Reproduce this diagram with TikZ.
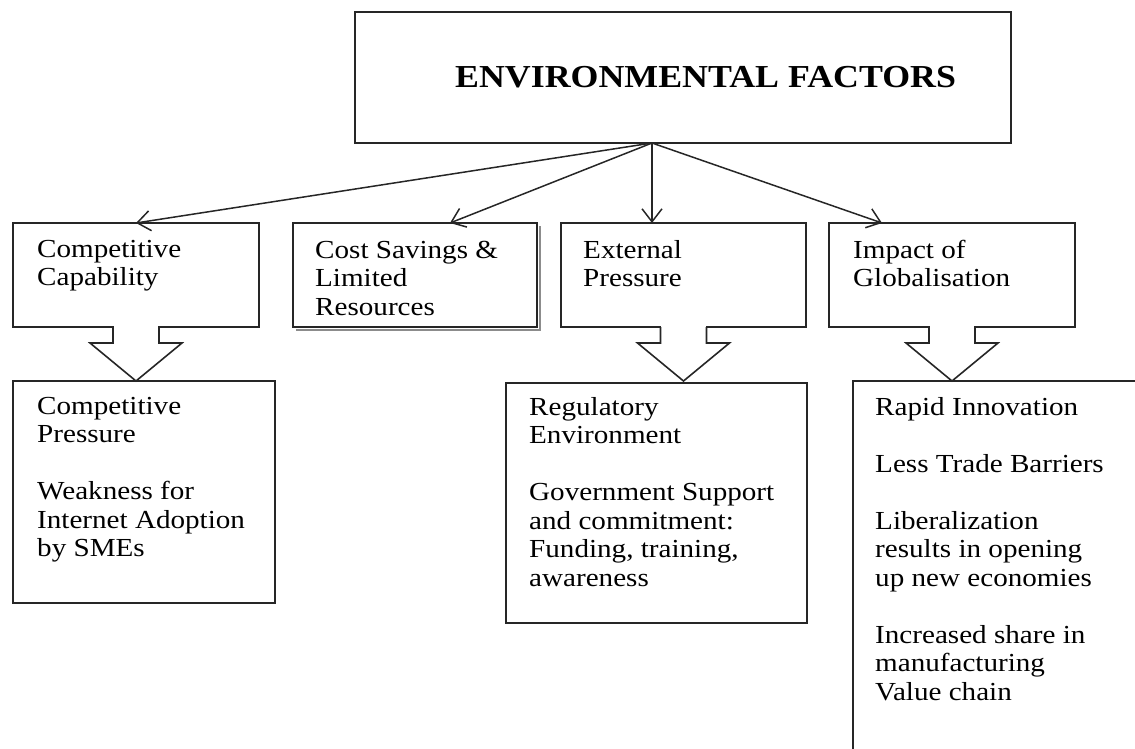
\documentclass[tikz,border=0pt]{standalone}
\usepackage{fontspec}
\setmainfont{Liberation Serif}[FakeStretch=1.12]
\newfontfamily\titlefont{Liberation Serif}[FakeStretch=1.12]
\usetikzlibrary{arrows.meta,calc}
\newcommand\firstrow{\rule{0pt}{20pt}}
% hollow block arrow hanging below a box
\newcommand\downblock[1]{%
  \fill[white] ($(#1.south)+(-22.2,-1.5)$) rectangle ($(#1.south)+(22.2,1.5)$);
  \draw[fat] ($(#1.south)+(-23,0)$) -- ++(0,16) -- ++(-23,0)
    -- ($(#1.south)+(0,54)$) -- ($(#1.south)+(46,16)$) -- ++(-23,0) -- ++(0,-16);
}
\begin{document}
\begin{tikzpicture}[x=1pt,y=-1pt,
  frame/.style={draw=black!85, line width=1.6pt, anchor=north west, inner sep=0pt, outer sep=0pt},
  body/.style={anchor=north west, inner sep=0pt, align=left, font=\fontsize{26}{28.5}\selectfont},
  link/.style={draw=black!85, line width=1.5pt, -{Straight Barb[length=13pt,width=20pt,line width=1.5pt]}},
  fat/.style={draw=black!85, line width=1.6pt, line join=miter}
]
\useasboundingbox (0,0) rectangle (1135,749);

% top box
\node[frame, minimum width=656pt, minimum height=131pt] (env) at (355,12) {};
\node[anchor=base west, inner sep=0pt, font=\titlefont\fontsize{32}{36}\selectfont\bfseries] (envtitle) at (455,88) {ENVIRONMENTAL FACTORS};

% second row
\draw[black!45, line width=2pt] (296,330) -- (540,330) -- (540,226);
\node[frame, minimum width=246pt, minimum height=104pt] (cap) at (13,223) {};
\node[frame, minimum width=244pt, minimum height=104pt] (cost) at (293,223) {};
\node[frame, minimum width=245pt, minimum height=104pt] (ext) at (561,223) {};
\node[frame, minimum width=246pt, minimum height=104pt] (glob) at (829,223) {};

\node[body] (captxt) at (37,237) {\firstrow Competitive\\Capability};
\node[body] (costtxt) at (315,238) {\firstrow Cost Savings \&\\Limited\\Resources};
\node[body] (exttxt) at (583,238) {\firstrow External\\Pressure};
\node[body] (globtxt) at (853,238) {\firstrow Impact of\\Globalisation};

% connectors from the top box
\coordinate (hub) at ($(env.south west)+(297,0)$);
\draw[link] (hub) -- ($(cap.north west)+(123,0)$);
\draw[link] (hub) -- ($(cost.north west)+(157,0)$);
\draw[link] (hub) -- ($(ext.north west)+(91,0)$);
\draw[link] (hub) -- ($(glob.north west)+(53,0)$);

% block arrows
\downblock{cap}
\downblock{ext}
\downblock{glob}

% third row
\node[frame, minimum width=262pt, minimum height=222pt] (press) at (13,381) {};
\node[frame, minimum width=301pt, minimum height=240pt] (reg) at (506,383) {};
\coordinate (gcorner) at (853,381);
\draw[fat] (1137,381) -- (gcorner) -- (853,751);

\node[body] (presstxt) at (37,394) {\firstrow Competitive\\Pressure\\[28.5pt]Weakness for\\Internet Adoption\\by SMEs};
\node[body] (regtxt) at (529,395) {\firstrow Regulatory\\Environment\\[28.5pt]Government Support\\and commitment:\\Funding, training,\\awareness};
\node[body] (gtxt) at (875,395) {\firstrow Rapid Innovation\\[28.5pt]Less Trade Barriers\\[28.5pt]Liberalization\\results in opening\\up new economies\\[28.5pt]Increased share in\\manufacturing\\Value chain};
\end{tikzpicture}
\end{document}
